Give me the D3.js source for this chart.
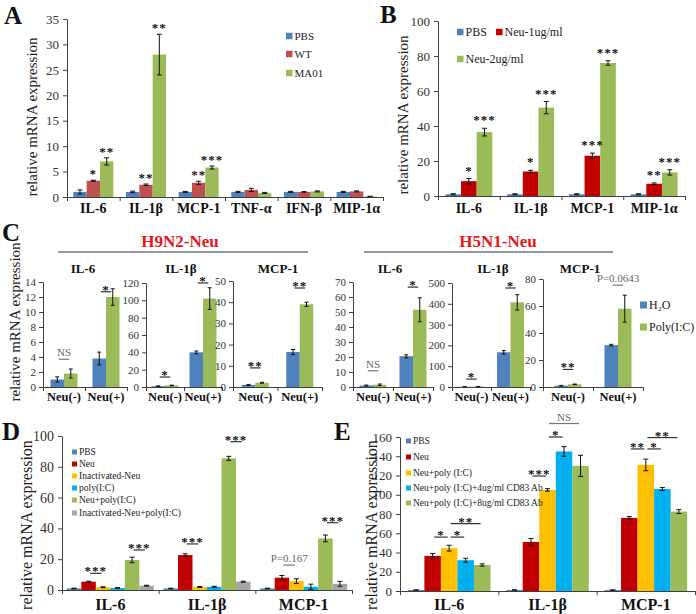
<!DOCTYPE html>
<html>
<head>
<meta charset="utf-8">
<script src="https://cdn.jsdelivr.net/npm/d3@7"></script>
<style>
body { margin: 0; background: #fff; }
text { font-family: "Liberation Serif", "Times New Roman", serif; }
</style>
</head>
<body>
<svg id="fig" width="696" height="614"></svg>
<script>

// ---------- data ----------
// A
var catsA = ["IL-6", "IL-1β", "MCP-1", "TNF-α", "IFN-β", "MIP-1α"];
var seriesA = ["PBS", "WT", "MA01"];
var valsA = [[1.0, 1.0, 1.0, 1.0, 1.0, 1.0], [3.2, 2.4, 2.8, 1.4, 1.0, 1.1], [7.0, 28.0, 5.8, 0.8, 1.1, 0.1]];
var errsA = [[0.4, 0.15, 0.1, 0.1, 0.1, 0.1], [0.1, 0.15, 0.3, 0.3, 0.05, 0.1], [0.7, 4.0, 0.3, 0.1, 0.1, 0.05]];
var starsA = [[1, 0, "*"], [2, 0, "**"], [1, 1, "**"], [2, 1, "**"], [1, 2, "**"], [2, 2, "***"]]; // series, category, label

// B
var catsB = ["IL-6", "IL-1β", "MCP-1", "MIP-1α"];
var seriesB = ["PBS", "Neu-1ug/ml", "Neu-2ug/ml"];
var valsB = [[1, 1, 1, 1], [8.5, 14, 23, 7], [36.5, 50.5, 76, 13.5]];
var errsB = [[0.3, 0.3, 0.3, 0.3], [1.5, 0.7, 1.5, 0.5], [2.2, 3.5, 1.3, 1.5]];
var starsB = [[1, 0, "*"], [2, 0, "***"], [1, 1, "*"], [2, 1, "***"], [1, 2, "***"], [2, 2, "***"], [1, 3, "**"], [2, 3, "***"]];

// C
var catsC = ["Neu(-)", "Neu(+)"];
var seriesC = ["H₂O", "Poly(I:C)"];
var strainsC = ["H9N2-Neu", "H5N1-Neu"];
var genesC = ["IL-6", "IL-1β", "MCP-1"];
var maxC = [[14, 120, 50], [70, 500, 80]];
var stepC = [[2, 20, 10], [10, 100, 20]];
// [strain][gene][series][category]
var valsC = [
  [[[1.0, 3.8], [1.8, 12.0]], [[1.0, 40], [1.8, 102]], [[1.0, 16.5], [2.0, 39]]],
  [[[1.0, 20.5], [1.5, 51.5]], [[1, 167], [2, 407]], [[1, 31], [2, 58]]]
];
var errsC = [
  [[[0.35, 0.85], [0.6, 1.1]], [[0.3, 1.5], [0.3, 12.5]], [[0.2, 1.2], [0.2, 1.0]]],
  [[[0.3, 1.0], [0.5, 8]], [[0.2, 8], [0.3, 37]], [[0.2, 0.6], [0.2, 10]]]
];
// [strain][gene] -> [category, series1, series2, level, label]
var sigC = [
  [[[0, 0, 1, 3.7, "NS"], [1, 0, 1, 12.7, "*"]], [[0, 0, 1, 11.5, "*"], [1, 0, 1, 120, "*"]], [[0, 0, 1, 9, "**"], [1, 0, 1, 46.7, "**"]]],
  [[[0, 0, 1, 10.8, "NS"], [1, 0, 1, 66.6, "*"]], [[0, 0, 1, 38, "*"], [1, 0, 1, 476, "*"]], [[0, 0, 1, 13, "**"], [1, 0, 1, 75.4, "P=0.0643"]]]
];

// D
var catsD = ["IL-6", "IL-1β", "MCP-1"];
var seriesD = ["PBS", "Neu", "Inactivated-Neu", "poly(I:C)", "Neu+poly(I:C)", "Inactivated-Neu+poly(I:C)"];
var valsD = [[1, 1, 1], [5.4, 22.7, 8], [1.8, 2, 5.8], [1.3, 2.1, 2.1], [19.5, 85.5, 33.5], [2.8, 5.4, 4]];
var errsD = [[0.2, 0.2, 0.2], [0.3, 0.8, 1.4], [0.3, 0.3, 1.5], [0.3, 0.3, 1.7], [1.8, 1.3, 2.2], [0.3, 0.3, 1.6]];
var sigD = [[0, 1, 2, 10.8, "***"], [0, 4, 5, 26, "***"], [1, 1, 2, 29.9, "***"], [1, 4, 5, 96.3, "***"], [2, 1, 2, 16.2, "P=0.167"], [2, 4, 5, 43.7, "***"]];

// E
var catsE = ["IL-6", "IL-1β", "MCP-1"];
var seriesE = ["PBS", "Neu", "Neu+poly (I:C)", "Neu+poly (I:C)+4ug/ml CD83 Ab", "Neu+poly (I:C)+8ug/ml CD83 Ab"];
var valsE = [[1, 1, 1], [36.5, 51, 76], [44.5, 105, 131], [32, 145, 106], [27, 130, 82.5]];
var errsE = [[0.2, 0.2, 0.2], [2.5, 3.5, 1.3], [3, 1.3, 6], [2, 5, 1.5], [1.2, 11, 2]];
var sigE = [[0, 1, 2, 56, "*"], [0, 2, 3, 56, "*"], [0, 2, 4, 70, "**"],
            [1, 1, 2, 119.5, "***"], [1, 2, 3, 160, "*"], [1, 2, 4, 174, "NS"],
            [2, 1, 2, 147.6, "**"], [2, 2, 3, 147.6, "*"], [2, 2, 4, 159.4, "**"]];

// ---------- drawing ----------
var svg = d3.select("#fig");
var axisColor = "#404040";

function barPanel(o) {
  var n = o.cats.length, ns = o.vals.length;
  var y = d3.scaleLinear().domain([0, o.max]).range([o.bot, o.top]);
  var x = d3.scaleBand().domain(d3.range(n)).range([o.x0, o.x1]);
  var bw = x.bandwidth();
  var gw = o.barW ? o.barW * ns : bw * o.group;
  var xs = d3.scaleBand().domain(d3.range(ns)).range([(bw - gw) / 2, (bw + gw) / 2]);
  var g = svg.append("g");

  o.vals.forEach(function(row, s) {
    g.selectAll(null).data(row).enter().append("rect")
      .attr("x", function(d, c) { return x(c) + xs(s); })
      .attr("y", function(d) { return y(d); })
      .attr("width", xs.bandwidth())
      .attr("height", function(d) { return y(0) - y(d); })
      .attr("fill", o.colors[s]);
  });

  // error bars
  var cap = o.cap || 2.5;
  o.errs.forEach(function(row, s) {
    row.forEach(function(e, c) {
      var cx = x(c) + xs(s) + xs.bandwidth() / 2, v = o.vals[s][c];
      var lo = y(Math.max(0, v - e)), hi = y(v + e);
      var eg = g.append("g").attr("stroke", "#111").attr("stroke-width", 1);
      eg.append("line").attr("x1", cx).attr("x2", cx).attr("y1", lo).attr("y2", hi);
      eg.append("line").attr("x1", cx - cap).attr("x2", cx + cap).attr("y1", hi).attr("y2", hi);
      eg.append("line").attr("x1", cx - cap).attr("x2", cx + cap).attr("y1", lo).attr("y2", lo);
    });
  });

  // y axis
  var ya = g.append("g").attr("transform", "translate(" + o.x0 + ",0)")
    .call(d3.axisLeft(y).tickValues(d3.range(0, o.max + o.step / 2, o.step)).tickSize(4).tickSizeOuter(0).tickPadding(o.tickPad || 4));
  ya.selectAll("path,line").attr("stroke", axisColor);
  ya.selectAll("text").style("font-family", "Liberation Serif").style("font-size", o.tickFont + "px").attr("fill", "#333");

  // x axis, ticks on the category boundaries
  var xb = d3.scaleLinear().domain([0, n]).range([o.x0, o.x1]);
  var xa = g.append("g").attr("transform", "translate(0," + o.bot + ")")
    .call(d3.axisBottom(xb).tickValues(d3.range(n + 1)).tickSize(4).tickSizeOuter(0).tickFormat(""));
  xa.selectAll("path,line").attr("stroke", axisColor);

  g.selectAll(null).data(o.cats).enter().append("text")
    .attr("x", function(d, c) { return x(c) + bw / 2; })
    .attr("y", o.catY)
    .attr("text-anchor", "middle")
    .style("font-weight", "bold")
    .style("font-size", o.catFont + "px")
    .attr("fill", "#111")
    .text(function(d) { return d; });

  return { x: x, xs: xs, y: y, g: g };
}

function barCenter(p, c, s) { return p.x(c) + p.xs(s) + p.xs.bandwidth() / 2; }

function starsAbove(p, list, vals, errs, off, size) {
  list.forEach(function(d) {
    var s = d[0], c = d[1];
    p.g.append("text")
      .attr("x", barCenter(p, c, s))
      .attr("y", p.y(vals[s][c] + errs[s][c]) - off)
      .attr("text-anchor", "middle")
      .style("font-size", size + "px")
      .style("font-weight", "bold")
      .style("letter-spacing", "1px")
      .attr("fill", "#111")
      .text(d[2]);
  });
}

function sigLines(p, list, size) {
  list.forEach(function(d) {
    var x1 = barCenter(p, d[0], d[1]) + 1.5, x2 = barCenter(p, d[0], d[2]) - 1.5, yy = p.y(d[3]);
    var isStar = d[4].indexOf("*") === 0;
    var col = isStar ? "#333" : "#777";
    p.g.append("line").attr("x1", x1).attr("x2", x2).attr("y1", yy).attr("y2", yy)
      .attr("stroke", col).attr("stroke-width", 1.2);
    p.g.append("text")
      .attr("x", (x1 + x2) / 2)
      .attr("y", isStar ? yy + 2 : yy - 3)
      .attr("text-anchor", "middle")
      .style("font-size", (isStar ? size + 2 : size) + "px")
      .style("font-weight", isStar ? "bold" : "normal")
      .style("letter-spacing", isStar ? "1px" : "0px")
      .attr("fill", isStar ? "#111" : "#666")
      .text(d[4]);
  });
}

function yLabel(x, y, size) {
  svg.append("text")
    .attr("transform", "translate(" + x + "," + y + ") rotate(-90)")
    .attr("text-anchor", "middle")
    .style("font-size", size + "px")
    .attr("fill", "#222")
    .text("relative mRNA expression");
}

function panelLetter(t, x, y) {
  svg.append("text").attr("x", x).attr("y", y)
    .style("font-size", "25px").style("font-weight", "bold").attr("fill", "#111").text(t);
}

function legend(names, colors, pos, size, box) {
  names.forEach(function(nm, i) {
    var p = pos[i];
    svg.append("rect").attr("x", p[0]).attr("y", p[1] - box / 2).attr("width", box).attr("height", box).attr("fill", colors[i]);
    svg.append("text").attr("x", p[0] + box + 2).attr("y", p[1]).attr("dy", "0.35em")
      .style("font-size", size + "px").attr("fill", "#222").text(nm);
  });
}

// ----- Panel A -----
var colorsA = ["#4F81BD", "#C0504D", "#9BBB59"];
var pA = barPanel({ cats: catsA, vals: valsA, errs: errsA, colors: colorsA,
  x0: 67, x1: 383, top: 19, bot: 197, max: 35, step: 5, group: 0.76,
  tickFont: 13, catFont: 14, catY: 213 });
starsAbove(pA, starsA, valsA, errsA, 2, 13);
legend(seriesA, colorsA, [[286, 36], [286, 54], [286, 73]], 11, 6.5);
yLabel(37, 117, 15);
panelLetter("A", 4, 24);

// ----- Panel B -----
var colorsB = ["#4F81BD", "#C00000", "#9BBB59"];
var pB = barPanel({ cats: catsB, vals: valsB, errs: errsB, colors: colorsB,
  x0: 438, x1: 685, top: 21, bot: 196, max: 100, step: 20, group: 0.76,
  tickFont: 13, catFont: 14, catY: 213 });
starsAbove(pB, starsB, valsB, errsB, 4, 13);
legend(seriesB, colorsB, [[457, 32], [496, 32], [457, 59]], 12, 6.5);
yLabel(408, 115, 15);
panelLetter("B", 380, 23);

// ----- Panel C -----
var colorsC = ["#4F81BD", "#9BBB59"];
var layoutC = [
  [{ x0: 43, x1: 127, top: 282, title: 83 }, { x0: 146, x1: 222, top: 283, title: 181 }, { x0: 233, x1: 322, top: 281, title: 278 }],
  [{ x0: 353, x1: 433, top: 282, title: 390 }, { x0: 452, x1: 530, top: 283, title: 493 }, { x0: 543, x1: 643, top: 279, title: 580 }]
];
var strainLayout = [{ cx: 180, l: 58, r: 308 }, { cx: 498, l: 364, r: 613 }];
strainsC.forEach(function(st, i) {
  var sl = strainLayout[i];
  svg.append("text").attr("x", sl.cx).attr("y", 247).attr("text-anchor", "middle")
    .style("font-size", "17px").style("font-weight", "bold").attr("fill", "#E8161B").text(st);
  svg.append("line").attr("x1", sl.l).attr("x2", sl.r).attr("y1", 252).attr("y2", 252).attr("stroke", "#333").attr("stroke-width", 1);
  genesC.forEach(function(gn, j) {
    var L = layoutC[i][j];
    var p = barPanel({ cats: catsC, vals: valsC[i][j], errs: errsC[i][j], colors: colorsC,
      x0: L.x0, x1: L.x1, top: L.top, bot: 387, max: maxC[i][j], step: stepC[i][j], barW: 13.5,
      tickFont: 11, catFont: 12.5, catY: 401, tickPad: 3, cap: 2 });
    sigLines(p, sigC[i][j], 11);
    svg.append("text").attr("x", L.title).attr("y", 273).attr("text-anchor", "middle")
      .style("font-size", "13px").style("font-weight", "bold").attr("fill", "#111").text(gn);
  });
});
legend(seriesC, colorsC, [[640, 305], [640, 327]], 12, 7);
yLabel(20, 322, 15);
panelLetter("C", 2, 241);

// ----- Panel D -----
var colorsD = ["#4F81BD", "#C00000", "#FFC000", "#00B0F0", "#9BBB59", "#A6A6A6"];
var pD = barPanel({ cats: catsD, vals: valsD, errs: errsD, colors: colorsD,
  x0: 62, x1: 352, top: 436, bot: 590, max: 100, step: 20, group: 0.9,
  tickFont: 14, catFont: 16, catY: 610 });
sigLines(pD, sigD, 11);
legend(seriesD, colorsD, [[72, 452], [72, 464], [72, 476], [72, 488], [72, 500], [72, 513]], 9.5, 5);
yLabel(32, 525, 16);
panelLetter("D", 2, 440);

// ----- Panel E -----
var colorsE = ["#4F81BD", "#C00000", "#FFC000", "#00B0F0", "#9BBB59"];
var pE = barPanel({ cats: catsE, vals: valsE, errs: errsE, colors: colorsE,
  x0: 400, x1: 695, top: 437, bot: 591, max: 160, step: 20, group: 0.84,
  tickFont: 13, catFont: 16, catY: 610 });
sigLines(pE, sigE, 11);
legend(seriesE, colorsE, [[406, 441], [406, 457], [406, 473], [406, 488], [406, 503]], 9.5, 5);
yLabel(377, 525, 16);
panelLetter("E", 334, 440);

</script>
</body>
</html>
